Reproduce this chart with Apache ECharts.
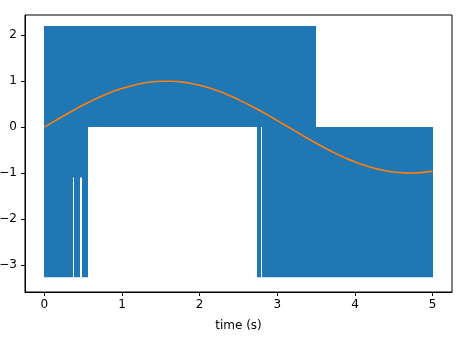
<!DOCTYPE html>
<html>
<head>
<meta charset="utf-8">
<script src="https://cdn.jsdelivr.net/npm/echarts@6/dist/echarts.min.js"></script>
<style>
html,body{margin:0;padding:0;background:#fff;}
#chart{width:459px;height:339px;}
</style>
</head>
<body>
<div id="chart"></div>
<script>
// Blue signal: envelope of the dense oscillation, per time interval
const sigBreaks = [0, 0.37, 0.383, 0.455, 0.48, 0.557, 2.74, 2.785, 2.798, 3.5, 5];
const sigHigh   = [2.2, 2.2, 2.2, 2.2, 2.2, 2.2, 2.2, 2.2, 2.2, 0];
const sigLow    = [-3.27, -1.1, -3.27, -1.1, -3.27, 0, -3.27, 0, -3.27, -3.27];

// Orange curve samples
const curveT = [0, 0.125, 0.25, 0.375, 0.5, 0.625, 0.75, 0.875, 1, 1.125, 1.25, 1.375, 1.5, 1.625, 1.75, 1.875,
  2, 2.125, 2.25, 2.375, 2.5, 2.625, 2.75, 2.875, 3, 3.125, 3.25, 3.375, 3.5, 3.625, 3.75, 3.875,
  4, 4.125, 4.25, 4.375, 4.5, 4.625, 4.75, 4.875, 5];
const curveY = [0, 0.125, 0.247, 0.366, 0.479, 0.585, 0.682, 0.768, 0.841, 0.902, 0.949, 0.981, 0.997, 0.999, 0.984, 0.954,
  0.909, 0.850, 0.778, 0.694, 0.598, 0.493, 0.382, 0.265, 0.141, 0.017, -0.108, -0.231, -0.351, -0.465, -0.572, -0.670,
  -0.757, -0.832, -0.895, -0.945, -0.978, -0.996, -0.999, -0.986, -0.959];

const xTicks = [0, 1, 2, 3, 4, 5];
const yTicks = [-3, -2, -1, 0, 1, 2];
const xLabel = 'time (s)';

const bandData = [];
for (let i = 0; i < sigHigh.length; i++) {
  bandData.push([sigBreaks[i], sigBreaks[i + 1], sigLow[i], sigHigh[i]]);
}
const curveData = curveT.map((t, i) => [t, curveY[i]]);

const font = 'DejaVu Sans';
const chart = echarts.init(document.getElementById('chart'), null, {renderer: 'canvas'});
chart.setOption({
  animation: false,
  backgroundColor: '#fff',
  grid: {left: 25, top: 15, width: 427, height: 277, show: true, borderColor: '#000', borderWidth: 1,
    backgroundColor: 'transparent', containLabel: false, outerBoundsMode: 'none'},
  xAxis: {
    type: 'value', min: -0.25, max: 5.25,
    name: xLabel, nameLocation: 'middle', nameGap: 28,
    nameTextStyle: {fontFamily: font, fontSize: 12, color: '#000'},
    axisLine: {show: true, onZero: false, lineStyle: {color: '#000', width: 1}},
    axisTick: {show: true, length: 4, customValues: xTicks, lineStyle: {color: '#000'}},
    axisLabel: {customValues: xTicks, margin: 7, fontFamily: font, fontSize: 12, color: '#000'},
    splitLine: {show: false}
  },
  yAxis: {
    type: 'value', min: -3.59, max: 2.44,
    axisLine: {show: true, onZero: false, lineStyle: {color: '#000', width: 1}},
    axisTick: {show: true, length: 4, customValues: yTicks, lineStyle: {color: '#000'}},
    axisLabel: {customValues: yTicks, margin: 8, fontFamily: font, fontSize: 12, color: '#000',
      formatter: v => String(v).replace('-', '\u2212')},
    splitLine: {show: false}
  },
  series: [
    {
      type: 'custom',
      data: bandData,
      encode: {x: [0, 1], y: [2, 3]},
      clip: true,
      renderItem: function (params, api) {
        const a = api.coord([api.value(0), api.value(3)]);
        const b = api.coord([api.value(1), api.value(2)]);
        const x0 = Math.round(a[0]), x1 = Math.round(b[0]);
        return {
          type: 'rect',
          shape: {x: x0, y: a[1], width: x1 - x0, height: b[1] - a[1]},
          style: {fill: '#1f77b4'}
        };
      },
      z: 2
    },
    {
      type: 'line',
      data: curveData,
      smooth: true,
      showSymbol: false,
      lineStyle: {color: '#ff7f0e', width: 1.6},
      z: 3
    }
  ]
});
</script>
</body>
</html>
